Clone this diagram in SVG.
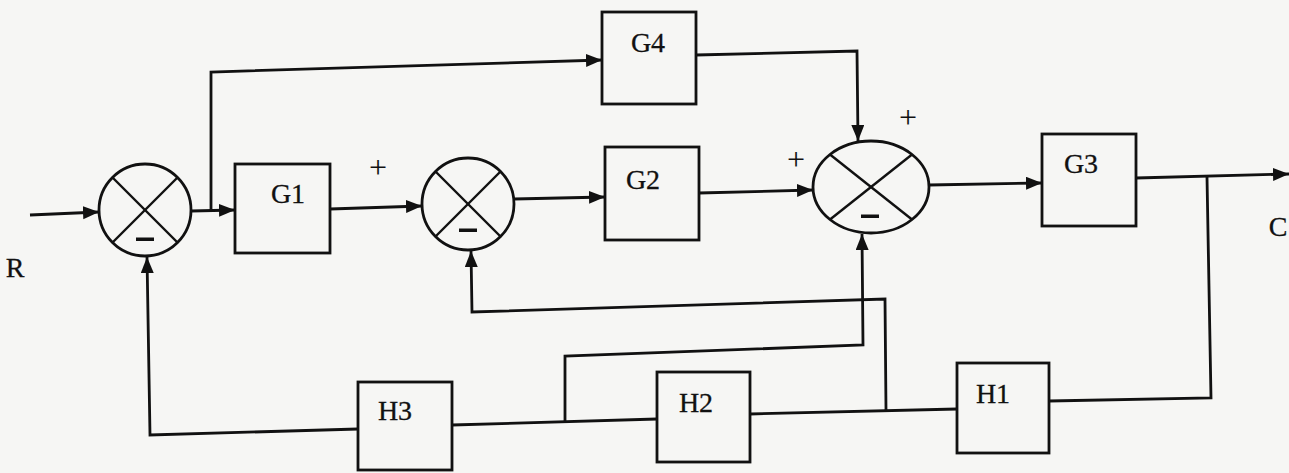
<svg xmlns="http://www.w3.org/2000/svg" width="1289" height="473" viewBox="0 0 1289 473">
<defs>
<marker id="ah" markerUnits="userSpaceOnUse" markerWidth="17" markerHeight="14" refX="16" refY="6.5" orient="auto">
<path d="M0,0 L16,6.5 L0,13 z" fill="#111"/>
</marker>
<style>
.blk{fill:none;stroke:#111;stroke-width:2.8}
.ln{fill:none;stroke:#111;stroke-width:2.8}
.ar{fill:none;stroke:#111;stroke-width:2.8;marker-end:url(#ah)}
.lbl{font-family:"Liberation Serif","Times New Roman",serif;font-size:28px;fill:#111;text-anchor:middle;stroke:#111;stroke-width:0.3}
.sg{font-family:"Liberation Serif","Times New Roman",serif;font-size:32px;fill:#111;text-anchor:middle}
.x{stroke:#111;stroke-width:2.4}
.mn{fill:#111}
</style>
</defs>
<rect x="0" y="0" width="1289" height="473" fill="#f6f6f4"/>

<g id="connectors">
<path class="ar" d="M30,215 L99,212"/>
<path class="ar" d="M191,211 L235,210"/>
<path class="ar" d="M211,211 L211,72 L602,60"/>
<path class="ar" d="M330,209 L422,206"/>
<path class="ar" d="M514,199 L605,197"/>
<path class="ar" d="M699,193 L813,190"/>
<path class="ar" d="M696,55 L857,51 L858,141"/>
<path class="ar" d="M929,185 L1042,183"/>
<path class="ar" d="M1136,178 L1289,174"/>
<path class="ln" d="M1207,177 L1211,398 L1049,401"/>
<path class="ln" d="M957,409 L750,414"/>
<path class="ln" d="M657,419 L452,425"/>
<path class="ar" d="M358,429 L150,435 L147,257"/>
<path class="ar" d="M565,421 L565,356 L863,345 L862,234"/>
<path class="ar" d="M886,410 L885,299 L472,312 L471,251"/>
</g>

<g id="sum1">
<circle cx="145" cy="210" r="46" class="blk"/>
<line class="x" x1="112.5" y1="177.5" x2="177.5" y2="242.5"/>
<line class="x" x1="177.5" y1="177.5" x2="112.5" y2="242.5"/>
<rect class="mn" x="136" y="237.5" width="18" height="3.5"/>
</g>

<g id="sum2">
<circle cx="468" cy="204" r="46" class="blk"/>
<line class="x" x1="435.5" y1="171.5" x2="500.5" y2="236.5"/>
<line class="x" x1="500.5" y1="171.5" x2="435.5" y2="236.5"/>
<rect class="mn" x="459" y="228.5" width="18" height="3.5"/>
</g>

<g id="sum3">
<ellipse cx="871" cy="187" rx="58" ry="46" class="blk"/>
<line class="x" x1="830" y1="154.5" x2="912" y2="219.5"/>
<line class="x" x1="912" y1="154.5" x2="830" y2="219.5"/>
<rect class="mn" x="861" y="214.5" width="18" height="3.5"/>
</g>

<g id="G1"><rect class="blk" x="235" y="164" width="95" height="89"/><text class="lbl" x="288" y="203">G1</text></g>
<g id="G2"><rect class="blk" x="605" y="147" width="94" height="93"/><text class="lbl" x="643" y="189">G2</text></g>
<g id="G3"><rect class="blk" x="1042" y="134" width="94" height="92"/><text class="lbl" x="1081" y="173">G3</text></g>
<g id="G4"><rect class="blk" x="602" y="12" width="94" height="92"/><text class="lbl" x="648" y="52">G4</text></g>
<g id="H1"><rect class="blk" x="957" y="363" width="92" height="90"/><text class="lbl" x="993" y="403">H1</text></g>
<g id="H2"><rect class="blk" x="657" y="372" width="93" height="90"/><text class="lbl" x="696" y="412">H2</text></g>
<g id="H3"><rect class="blk" x="358" y="382" width="94" height="88"/><text class="lbl" x="395" y="420">H3</text></g>

<g id="labels">
<text class="lbl" x="15" y="277">R</text>
<text class="lbl" x="1278" y="236">C</text>
<text class="sg" x="378" y="178">+</text>
<text class="sg" x="796" y="170">+</text>
<text class="sg" x="908" y="128">+</text>
</g>
</svg>
